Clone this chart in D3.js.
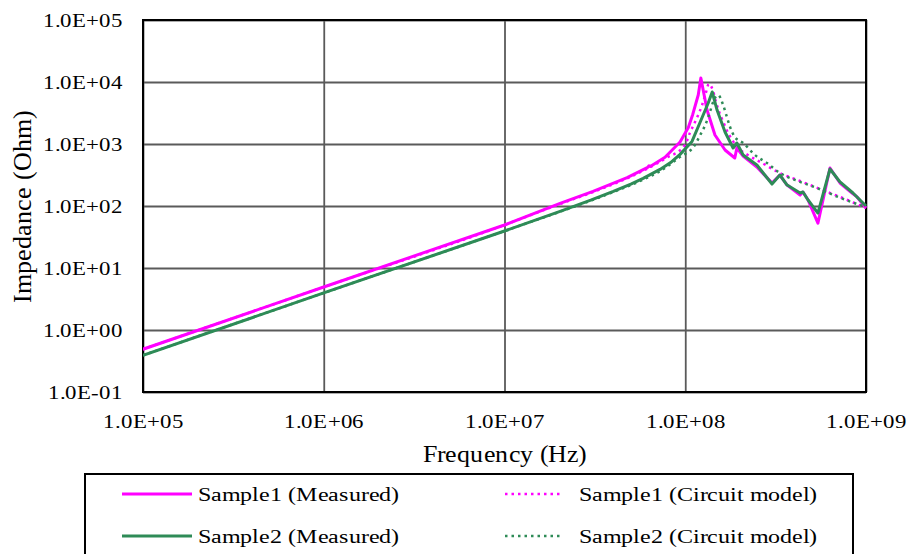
<!DOCTYPE html>
<html>
<head>
<meta charset="utf-8">
<script src="https://cdn.jsdelivr.net/npm/d3@7"></script>
<style>
  @font-face {
    font-family: "ChartSerif";
    src: local("Liberation Serif"), local("LiberationSerif-Regular"), local("LiberationSerif"),
         local("DejaVu Serif"), local("DejaVuSerif");
  }
  body { margin: 0; background: #fff; }
  svg text { font-family: "ChartSerif", "Liberation Serif", "Times New Roman", serif; fill: #000; }
</style>
</head>
<body>
<div id="chart"></div>
<script>
// tick values and their labels
const xTicks = [1e5, 1e6, 1e7, 1e8, 1e9]
const xTickLabels = ["1.0E+05", "1.0E+06", "1.0E+07", "1.0E+08", "1.0E+09"]
const yTicks = [1e-1, 1e0, 1e1, 1e2, 1e3, 1e4, 1e5]
const yTickLabels = ["1.0E-01", "1.0E+00", "1.0E+01", "1.0E+02", "1.0E+03", "1.0E+04", "1.0E+05"]

// Sample1 measured (Hz, Ohm)
const s1MeasFreq = [1e5, 1e6, 1e7, 2.03e7, 3.09e7, 4.77e7, 6.2e7, 6.3e7, 6.4e7, 7.73e7, 9.36e7, 1.04e8, 1.10e8, 1.18e8, 1.22e8,
  1.32e8, 1.46e8, 1.66e8, 1.88e8, 1.93e8, 2.09e8, 2.49e8, 3.02e8, 3.34e8, 3.66e8, 4.32e8, 4.48e8, 4.78e8, 5.42e8,
  6.32e8, 7.18e8, 8.37e8, 8.92e8, 1e9]
const s1MeasZ = [0.49, 4.94, 49.4, 110, 172, 286, 420, 445, 432, 610, 1080, 1850, 3000, 6170, 11600,
  3530, 1396, 800, 594, 863, 640, 426, 235, 316, 218, 150, 168, 125, 53,
  410, 235, 162, 140, 93]

// Sample1 circuit model
const s1ModelFreq = [1e5, 1e6, 1e7, 2.03e7, 3.09e7, 4.77e7, 7.73e7, 9.97e7, 1.06e8, 1.16e8, 1.24e8, 1.30e8, 1.35e8, 1.42e8,
  1.48e8, 1.54e8, 1.62e8, 1.70e8, 1.84e8, 1.96e8, 2.22e8, 2.66e8, 3.34e8, 4.32e8, 5.57e8, 7.18e8, 1e9]
const s1ModelZ = [0.49, 4.94, 49.4, 108, 168, 280, 580, 964, 1504, 2630, 4260, 6650, 9290, 7430,
  4750, 3280, 2300, 1650, 1100, 861, 665, 494, 340, 253, 188, 140, 93]

// Sample2 measured
const s2MeasFreq = [1e5, 1e6, 1e7, 2.03e7, 3.0e7, 4.0e7, 5.0e7, 5.85e7, 7.25e7, 8.3e7, 9.36e7, 1.09e8, 1.21e8, 1.34e8, 1.41e8, 1.50e8,
  1.66e8, 1.84e8, 1.93e8, 2.09e8, 2.49e8, 3.02e8, 3.34e8, 3.66e8, 4.32e8, 4.48e8, 4.78e8, 5.42e8,
  6.32e8, 7.18e8, 8.47e8, 1e9]
const s2MeasZ = [0.39, 3.96, 39.5, 82, 124, 172, 226, 279, 389, 501, 680, 1100, 2264, 4580, 6900, 3530,
  1563, 861, 1038, 665, 458, 226, 316, 218, 162, 168, 125, 77,
  395, 244, 162, 100]

// Sample2 circuit model
const s2ModelFreq = [1e5, 1e6, 1e7, 2.03e7, 3.0e7, 4.0e7, 5.0e7, 5.85e7, 7.25e7, 9.36e7, 1.13e8, 1.21e8, 1.29e8, 1.37e8, 1.44e8, 1.52e8,
  1.62e8, 1.70e8, 1.77e8, 1.88e8, 2.09e8, 2.43e8, 2.83e8, 3.34e8, 4.05e8, 5.36e8, 7.0e8, 1e9]
const s2ModelZ = [0.39, 3.96, 39.5, 81, 122, 168, 218, 266, 365, 620, 964, 1400, 2020, 3280, 5130, 6170,
  4260, 2720, 1880, 1300, 1038, 665, 494, 340, 263, 195, 140, 96]

const seriesNames = ["Sample1 (Measured)", "Sample1 (Circuit model)", "Sample2 (Measured)", "Sample2 (Circuit model)"]

const W = 909, H = 554
const plot = {left: 143, right: 866, top: 20, bottom: 392}
const magenta = "#ff00ff", green = "#2e8b57"
const serif = "ChartSerif, 'Liberation Serif', 'Times New Roman', serif"

const series = [
  {name: seriesNames[0], freq: s1MeasFreq, z: s1MeasZ, color: magenta, dotted: false},
  {name: seriesNames[1], freq: s1ModelFreq, z: s1ModelZ, color: magenta, dotted: true},
  {name: seriesNames[2], freq: s2MeasFreq, z: s2MeasZ, color: green, dotted: false},
  {name: seriesNames[3], freq: s2ModelFreq, z: s2ModelZ, color: green, dotted: true}
]

const svg = d3.select("#chart").append("svg")
  .attr("width", W)
  .attr("height", H)
  .attr("font-family", serif)

svg.append("rect").attr("width", W).attr("height", H).attr("fill", "#fff")

const x = d3.scaleLog().domain([1e5, 1e9]).range([plot.left, plot.right])
const y = d3.scaleLog().domain([1e-1, 1e5]).range([plot.bottom, plot.top])

// grid + labels via axes
const gx = svg.append("g")
  .attr("transform", `translate(0,${plot.bottom})`)
  .call(d3.axisBottom(x).tickValues(xTicks).tickFormat((d, i) => xTickLabels[i])
    .tickSize(-(plot.bottom - plot.top)))
  .attr("font-family", serif)
gx.select(".domain").remove()
gx.selectAll("line").attr("stroke", "#5a5a5a").attr("stroke-width", 1.8)
gx.selectAll("text")
  .attr("y", 0).attr("dy", 0)
  .attr("transform", "translate(0,36) scale(1.2,1)")
  .style("font-size", "19px")
  .attr("fill", "#000")

const gy = svg.append("g")
  .attr("transform", `translate(${plot.left},0)`)
  .call(d3.axisLeft(y).tickValues(yTicks).tickFormat((d, i) => yTickLabels[i])
    .tickSize(-(plot.right - plot.left)))
  .attr("font-family", serif)
gy.select(".domain").remove()
gy.selectAll("line").attr("stroke", "#5a5a5a").attr("stroke-width", 1.8)
gy.selectAll("text")
  .attr("x", 0).attr("dy", "0.35em")
  .attr("transform", "translate(-20,0) scale(1.2,1)")
  .style("font-size", "19px")
  .attr("fill", "#000")

// plot border
svg.append("rect")
  .attr("x", plot.left).attr("y", plot.top)
  .attr("width", plot.right - plot.left).attr("height", plot.bottom - plot.top)
  .attr("fill", "none").attr("stroke", "#000").attr("stroke-width", 2)

svg.append("clipPath").attr("id", "clip")
  .append("rect")
  .attr("x", plot.left).attr("y", plot.top - 2)
  .attr("width", plot.right - plot.left + 2).attr("height", plot.bottom - plot.top + 4)

const lineSolid = d3.line().x(d => x(d[0])).y(d => y(d[1]))
const lineSmooth = d3.line().x(d => x(d[0])).y(d => y(d[1])).curve(d3.curveMonotoneX)

const gLines = svg.append("g").attr("clip-path", "url(#clip)")
for (const s of series) {
  const pts = s.freq.map((f, i) => [f, s.z[i]])
  gLines.append("path")
    .attr("d", s.dotted ? lineSmooth(pts) : lineSolid(pts))
    .attr("fill", "none")
    .attr("stroke", s.color)
    .attr("stroke-width", s.dotted ? 2.5 : 3)
    .attr("stroke-linejoin", "round")
    .attr("stroke-dasharray", s.dotted ? "2.5,4" : null)
}

// axis titles
svg.append("text")
  .attr("transform", `translate(${(plot.left + plot.right) / 2},462) scale(1.08,1)`)
  .attr("text-anchor", "middle")
  .style("font-size", "24px")
  .text("Frequency (Hz)")

svg.append("text")
  .attr("transform", `translate(31,${(plot.top + plot.bottom) / 2}) rotate(-90)`)
  .attr("text-anchor", "middle")
  .style("font-size", "26px")
  .text("Impedance (Ohm)")

// legend
svg.append("rect")
  .attr("x", 85).attr("y", 474)
  .attr("width", 768).attr("height", 100)
  .attr("fill", "none").attr("stroke", "#000").attr("stroke-width", 2)

const legendPos = [
  {lx: 122, lw: 70, tx: 198, ty: 494},
  {lx: 505, lw: 56, tx: 579, ty: 494},
  {lx: 122, lw: 70, tx: 198, ty: 536},
  {lx: 505, lw: 56, tx: 579, ty: 536}
]
series.forEach((s, i) => {
  const p = legendPos[i]
  svg.append("line")
    .attr("x1", p.lx).attr("x2", p.lx + p.lw)
    .attr("y1", p.ty).attr("y2", p.ty)
    .attr("stroke", s.color)
    .attr("stroke-width", s.dotted ? 2.5 : 3)
    .attr("stroke-dasharray", s.dotted ? "2.5,4" : null)
  svg.append("text")
    .attr("transform", `translate(${p.tx},${p.ty + 7}) scale(1.2,1)`)
    .style("font-size", "20px")
    .text(s.name)
})
</script>
</body>
</html>
